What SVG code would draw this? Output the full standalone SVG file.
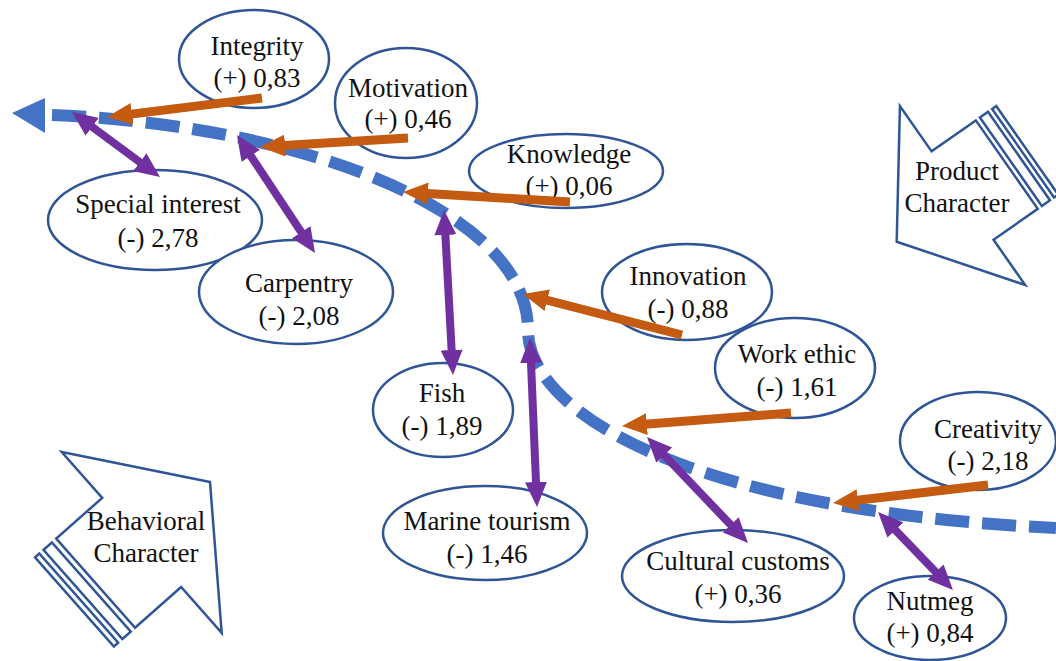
<svg xmlns="http://www.w3.org/2000/svg" width="1056" height="661" viewBox="0 0 1056 661">
<style>
.t{font-size:27px;text-anchor:middle;fill:#111}
.n{fill:#fff;stroke:#2F5597;stroke-width:2.5}
.o{stroke:#C55A11;stroke-width:9;fill:none;marker-end:url(#ho)}
.p{stroke:#7030A0;stroke-width:8;fill:none;marker-start:url(#hp);marker-end:url(#hp)}
.sh{fill:#fff;stroke:#2F5597;stroke-width:2.5;stroke-linejoin:miter}
</style>
<defs>
<marker id="ho" viewBox="0 0 25 22" markerUnits="userSpaceOnUse" markerWidth="25" markerHeight="22" refX="5" refY="11" orient="auto">
<path d="M0,0 L25,11 L0,22 Z" fill="#C55A11"/>
</marker>
<marker id="hp" viewBox="0 0 25 22" markerUnits="userSpaceOnUse" markerWidth="25" markerHeight="22" refX="5" refY="11" orient="auto-start-reverse">
<path d="M0,0 L25,11 L0,22 Z" fill="#7030A0"/>
</marker>
</defs>
<rect width="1056" height="661" fill="#fff"/>
<g font-family="Liberation Serif, DejaVu Serif, serif">
<g id="behavioral-character" transform="translate(210,482) rotate(-41.5)">
<path class="sh" d="M0,0 L-91.2,-120.7 L-91.2,-59.5 L-152.7,-59.5 L-152.7,59.5 L-91.2,59.5 L-91.2,120.7 Z"/>
<rect class="sh" x="-169.7" y="-59.5" width="11.3" height="119"/>
<rect class="sh" x="-181" y="-59.5" width="5.7" height="119"/>
</g>
<g id="behavioral-label">
<text class="t" x="146" y="530">Behavioral</text>
<text class="t" x="146" y="562">Character</text>
</g>

<g id="product-character" transform="translate(896.7,241.7) rotate(145)">
<path class="sh" d="M0,0 L-80.4,-109.2 L-80.4,-54 L-134.4,-54 L-134.4,54 L-80.4,54 L-80.4,109.2 Z"/>
<rect class="sh" x="-149.3" y="-54" width="9.9" height="108"/>
<rect class="sh" x="-159.3" y="-54" width="5" height="108"/>
</g>
<g id="product-label">
<text class="t" x="957" y="180">Product</text>
<text class="t" x="957" y="212">Character</text>
</g>

<g id="integrity"><ellipse class="n" cx="254" cy="59" rx="75" ry="49"/>
<text class="t" x="257" y="55">Integrity</text><text class="t" x="257" y="87">(+) 0,83</text></g>
<g id="motivation"><ellipse class="n" cx="406" cy="103" rx="71" ry="55"/>
<text class="t" x="408" y="97">Motivation</text><text class="t" x="408" y="128">(+) 0,46</text></g>
<g id="knowledge"><ellipse class="n" cx="566" cy="171" rx="97" ry="37"/>
<text class="t" x="569" y="163">Knowledge</text><text class="t" x="569" y="195">(+) 0,06</text></g>
<g id="special-interest"><ellipse class="n" cx="155" cy="220" rx="107" ry="50"/>
<text class="t" x="158" y="213">Special interest</text><text class="t" x="158" y="247">(-) 2,78</text></g>
<g id="carpentry"><ellipse class="n" cx="296" cy="292" rx="97" ry="52"/>
<text class="t" x="299" y="292">Carpentry</text><text class="t" x="299" y="325">(-) 2,08</text></g>
<g id="innovation"><ellipse class="n" cx="687" cy="292" rx="85" ry="48"/>
<text class="t" x="688" y="285">Innovation</text><text class="t" x="688" y="318">(-) 0,88</text></g>
<g id="work-ethic"><ellipse class="n" cx="795" cy="368" rx="80" ry="50"/>
<text class="t" x="797" y="363">Work ethic</text><text class="t" x="797" y="396">(-) 1,61</text></g>
<g id="fish"><ellipse class="n" cx="443" cy="410" rx="70" ry="47"/>
<text class="t" x="442" y="402">Fish</text><text class="t" x="442" y="435">(-) 1,89</text></g>
<g id="marine-tourism"><ellipse class="n" cx="485" cy="533" rx="102" ry="47"/>
<text class="t" x="487" y="530">Marine tourism</text><text class="t" x="487" y="563">(-) 1,46</text></g>
<g id="creativity"><ellipse class="n" cx="978" cy="441" rx="78" ry="49"/>
<text class="t" x="988" y="438">Creativity</text><text class="t" x="988" y="470">(-) 2,18</text></g>
<g id="cultural-customs"><ellipse class="n" cx="733" cy="576" rx="111" ry="46"/>
<text class="t" x="738" y="570">Cultural customs</text><text class="t" x="738" y="603">(+) 0,36</text></g>
<g id="nutmeg"><ellipse class="n" cx="930" cy="618" rx="76" ry="42"/>
<text class="t" x="930" y="610">Nutmeg</text><text class="t" x="930" y="642">(+) 0,84</text></g>
</g>
<g id="connectors">
<g id="main-path">
<path d="M52,115 C300,125 528,210 528,330 C528,410 680,510 1056,528" fill="none" stroke="#4472C4" stroke-width="12" stroke-dasharray="34 13"/>
<path d="M12,113 L45,98 L45,133 Z" fill="#4472C4"/>
</g>
<line class="o" x1="262" y1="98" x2="126.9" y2="114.6"/>
<line class="o" x1="408" y1="138" x2="280" y2="145.8"/>
<line class="o" x1="570" y1="202" x2="423" y2="193.2"/>
<line class="o" x1="682" y1="335" x2="542.4" y2="299"/>
<line class="o" x1="791" y1="413" x2="641.9" y2="424.5"/>
<line class="o" x1="988" y1="485" x2="852.9" y2="500.7"/>
<line class="p" x1="88.1" y1="123.9" x2="143.9" y2="165.1"/>
<line class="p" x1="248" y1="151.7" x2="304" y2="236.3"/>
<line class="p" x1="445.1" y1="230" x2="451.9" y2="355"/>
<line class="p" x1="530.8" y1="358" x2="536.2" y2="487"/>
<line class="p" x1="660.8" y1="451.5" x2="734.2" y2="528.5"/>
<line class="p" x1="891.9" y1="526.4" x2="939.1" y2="575.6"/>
</g>
</svg>
